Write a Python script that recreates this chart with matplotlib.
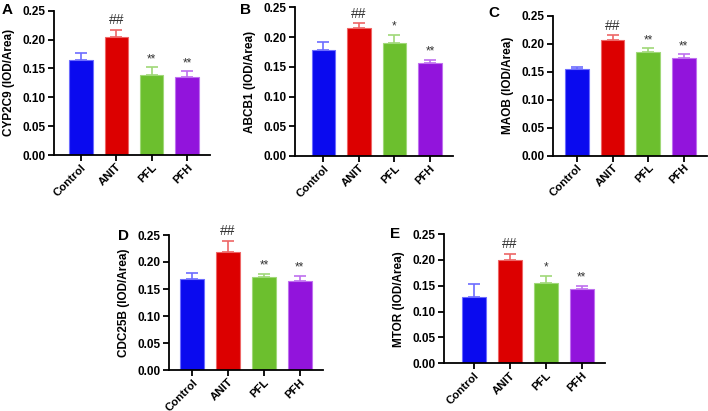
import matplotlib
matplotlib.use("Agg")
import matplotlib.pyplot as plt
import numpy as np

plt.rcParams['font.family'] = ['Liberation Sans', 'DejaVu Sans']

groups = ['Control', 'ANIT', 'PFL', 'PFH']

# means and upper error (SEM) for each panel
cyp2c9 = [0.165, 0.204, 0.138, 0.135]
cyp2c9_err = [0.011, 0.013, 0.014, 0.010]
cyp2c9_sig = ['', '##', '**', '**']

abcb1 = [0.179, 0.215, 0.190, 0.157]
abcb1_err = [0.013, 0.008, 0.014, 0.005]
abcb1_sig = ['', '##', '*', '**']

maob = [0.154, 0.207, 0.185, 0.174]
maob_err = [0.004, 0.008, 0.007, 0.007]
maob_sig = ['', '##', '**', '**']

cdc25b = [0.168, 0.219, 0.172, 0.164]
cdc25b_err = [0.011, 0.020, 0.006, 0.011]
cdc25b_sig = ['', '##', '**', '**']

mtor = [0.129, 0.199, 0.155, 0.144]
mtor_err = [0.024, 0.013, 0.014, 0.006]
mtor_sig = ['', '##', '*', '**']

bar_cols = ['#0a0aef', '#dc0000', '#6cbf2e', '#9214dc']
err_cols = ['#6c6cff', '#ee6666', '#a0d878', '#bf70ef']

W, H = 708, 411
fig = plt.figure(figsize=(W / 100, H / 100), dpi=100)

# (letter, ylabel, values, errors, marks, px box x0, x1, ytop, ybot, left xlim)
panels = [
    ('A', 'CYP2C9 (IOD/Area)', cyp2c9, cyp2c9_err, cyp2c9_sig, 54, 210, 10.7, 155, -0.76),
    ('B', 'ABCB1 (IOD/Area)', abcb1, abcb1_err, abcb1_sig, 295, 453, 7.3, 156, -0.80),
    ('C', 'MAOB (IOD/Area)', maob, maob_err, maob_sig, 553, 707, 15.7, 155.7, -0.67),
    ('D', 'CDC25B (IOD/Area)', cdc25b, cdc25b_err, cdc25b_sig, 169, 323, 235, 370, -0.65),
    ('E', 'MTOR (IOD/Area)', mtor, mtor_err, mtor_sig, 444, 605, 234, 363.3, -0.84),
]

for letter, ylab, vals, errs, sig, x0, x1, yt, yb, xl in panels:
    ax = fig.add_axes([x0 / W, 1 - yb / H, (x1 - x0) / W, (yb - yt) / H])
    x = np.arange(len(groups))
    for i in range(len(groups)):
        ax.errorbar(x[i], vals[i], yerr=[[0], [errs[i]]], fmt='none',
                    ecolor=err_cols[i], elinewidth=1.2, capsize=4.5, capthick=1.2, zorder=1)
        ax.bar(x[i], vals[i], width=0.66, color=bar_cols[i],
               edgecolor=err_cols[i], linewidth=0.8, zorder=2)
        if sig[i]:
            star = '*' in sig[i]
            ax.annotate(sig[i], (x[i], vals[i] + errs[i]), xytext=(0, 1.5 if star else 2),
                        textcoords='offset points', ha='center', va='bottom',
                        fontsize=8.5 if star else 10, color='#333333')
    ax.set_xlim(xl, 3.65)
    ax.set_ylim(0, 0.25)
    ax.set_yticks([0, 0.05, 0.10, 0.15, 0.20, 0.25])
    ax.set_yticklabels(['%.2f' % v for v in ax.get_yticks()], fontsize=8.5, fontweight='bold')
    ax.set_xticks(x)
    ax.set_xticklabels(groups, rotation=45, ha='right', rotation_mode='anchor',
                       fontsize=8.2, fontweight='bold')
    ax.set_ylabel(ylab, fontsize=8.5, fontweight='bold', labelpad=5.5)
    for s in ['top', 'right']:
        ax.spines[s].set_visible(False)
    for s in ['left', 'bottom']:
        ax.spines[s].set_linewidth(1.3)
    ax.tick_params(width=1.3, length=4, pad=2)
    ax.tick_params(axis='x', pad=1)

letters = {'A': (2, 14), 'B': (240, 14), 'C': (488, 17), 'D': (118, 240), 'E': (390, 238)}
for k, (px, py) in letters.items():
    fig.text(px / W, 1 - py / H, k, fontsize=11, fontweight='bold')

fig.savefig('out.png', dpi=100)
